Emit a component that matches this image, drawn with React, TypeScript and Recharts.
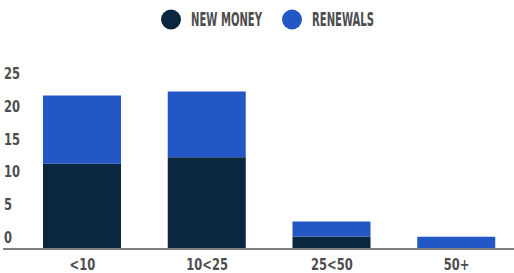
import { BarChart, Bar, XAxis, YAxis, Legend } from "recharts";

const categories = ["<10", "10<25", "25<50", "50+"];
const newMoney = [13, 14, 1.9, 0];
const renewals = [10.4, 10, 2.3, 1.85];
const yTicks = [0, 5, 10, 15, 20, 25];

const DARK = "#0b2740";
const BLUE = "#2357c6";
const TEXT = "#4d4d4d";
const FONT = "'DejaVu Sans Condensed', 'Liberation Sans Narrow', sans-serif";

const data = categories.map((name, i) => ({
  name,
  newMoney: newMoney[i],
  renewals: renewals[i],
}));

// legend drawn by hand so it sits where the original one does
const LegendContent = () => (
  <svg width={514} height={40}>
    <circle cx={171} cy={19.5} r={10} fill={DARK} />
    <text x={191} y={26} fontFamily={FONT} fontWeight="bold" fontSize={19} fill={TEXT} textLength={71} lengthAdjust="spacingAndGlyphs">
      NEW MONEY
    </text>
    <circle cx={292} cy={19.5} r={10} fill={BLUE} />
    <text x={312} y={26} fontFamily={FONT} fontWeight="bold" fontSize={19} fill={TEXT} textLength={62} lengthAdjust="spacingAndGlyphs">
      RENEWALS
    </text>
  </svg>
);

// the original font is a tall condensed one, so squeeze the labels a bit
const YTick = ({ y, payload }: any) => (
  <text
    transform={`translate(4 ${y - 6}) scale(0.8 1)`}
    fontFamily={FONT}
    fontWeight="bold"
    fontSize={16}
    fill={TEXT}
    textAnchor="start"
  >
    {payload.value}
  </text>
);

const XTick = ({ x, y, payload }: any) => (
  <text
    transform={`translate(${x} ${y + 21}) scale(0.8 1)`}
    fontFamily={FONT}
    fontWeight="bold"
    fontSize={16}
    fill={TEXT}
    textAnchor="middle"
  >
    {payload.value}
  </text>
);

export default function App() {
  return (
    <div style={{ position: "absolute", left: 0, top: 0, width: 514, height: 273, background: "#fff" }}>
      <BarChart width={514} height={273} data={data} margin={{ top: 45, right: 0, bottom: 0, left: 0 }}>
        <Legend
          verticalAlign="top"
          height={40}
          content={<LegendContent />}
          wrapperStyle={{ left: 0, top: 0, width: 514, height: 40 }}
        />
        <XAxis
          dataKey="name"
          height={24}
          padding={{ left: 17, right: -5 }}
          axisLine={{ stroke: "#808080", strokeWidth: 2 }}
          tickLine={false}
          tickSize={0}
          tickMargin={0}
          tick={<XTick />}
          interval={0}
        />
        <YAxis
          width={3}
          domain={[0, 25]}
          ticks={yTicks}
          interval={0}
          axisLine={false}
          tickLine={false}
          tickSize={0}
          tickMargin={0}
          tick={<YTick />}
        />
        <Bar dataKey="newMoney" name="New money" stackId="a" fill={DARK} barSize={78} isAnimationActive={false} />
        <Bar dataKey="renewals" name="Renewals" stackId="a" fill={BLUE} barSize={78} isAnimationActive={false} />
      </BarChart>
    </div>
  );
}
